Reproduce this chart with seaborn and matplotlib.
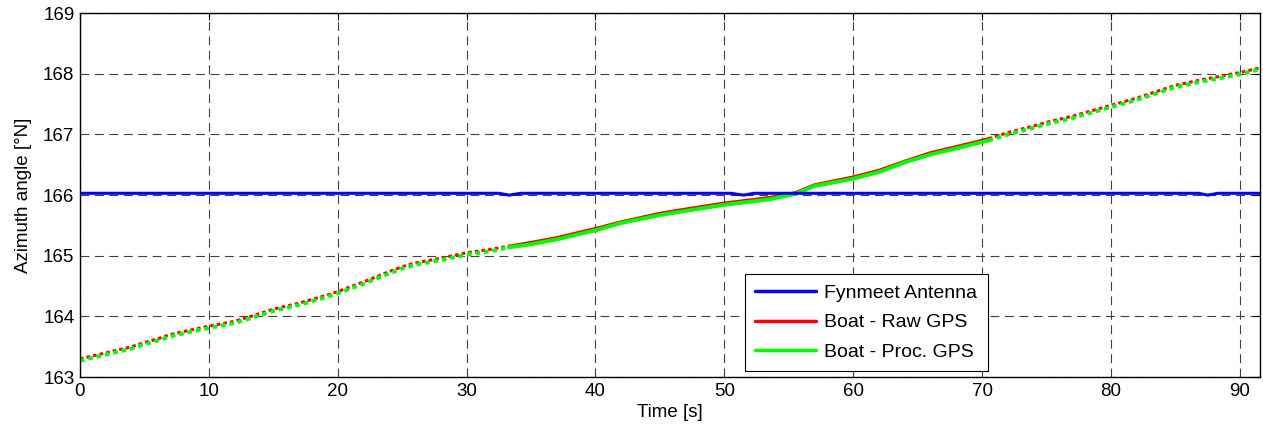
import numpy as np
import pandas as pd
import matplotlib
matplotlib.use("Agg")
import matplotlib.pyplot as plt
from matplotlib.lines import Line2D
import seaborn as sns

# ---- data ----
time_s = [0, 2, 4, 5, 6, 7, 8, 10, 12, 14, 15, 17, 19, 20, 22, 24, 25, 26, 28, 30,
          32, 33.3, 35, 37, 40, 42, 45, 47, 50, 53.5, 55.5, 57, 60, 62, 64, 66, 68,
          70.5, 72, 74, 75, 77, 80, 82, 85, 87, 90, 91.6]
raw_gps = [163.30, 163.40, 163.50, 163.57, 163.63, 163.70, 163.75, 163.84, 163.92,
           164.05, 164.12, 164.22, 164.34, 164.41, 164.57, 164.74, 164.82, 164.88,
           164.96, 165.05, 165.11, 165.16, 165.22, 165.30, 165.45, 165.56, 165.70,
           165.77, 165.87, 165.96, 166.04, 166.17, 166.30, 166.41, 166.56, 166.70,
           166.80, 166.93, 167.03, 167.14, 167.20, 167.30, 167.48, 167.60, 167.81,
           167.90, 168.02, 168.10]
proc_gps = [163.27, 163.37, 163.47, 163.54, 163.60, 163.67, 163.72, 163.81, 163.89,
            164.02, 164.09, 164.19, 164.31, 164.38, 164.54, 164.71, 164.79, 164.85,
            164.93, 165.02, 165.08, 165.14, 165.19, 165.27, 165.42, 165.54, 165.67,
            165.74, 165.84, 165.93, 166.02, 166.15, 166.27, 166.38, 166.54, 166.67,
            166.77, 166.90, 167.00, 167.11, 167.17, 167.27, 167.45, 167.57, 167.78,
            167.87, 167.99, 168.08]
antenna_t = [0, 10, 20, 28, 30, 32.5, 33.3, 34.2, 36, 45, 50.5, 51.5, 52.3, 55, 70,
             80, 86, 86.8, 87.5, 88.3, 91.6]
antenna_y = [166.03, 166.03, 166.03, 166.03, 166.03, 166.03, 166.00, 166.03, 166.03,
             166.03, 166.03, 166.00, 166.03, 166.03, 166.03, 166.03, 166.03, 166.03,
             166.00, 166.03, 166.03]
series_labels = ["Fynmeet Antenna", "Boat - Raw GPS", "Boat - Proc. GPS"]
solid_start, solid_end = 33.3, 70.5

boat = pd.DataFrame({"t": time_s, "raw": raw_gps, "proc": proc_gps})
ant = pd.DataFrame({"t": antenna_t, "y": antenna_y})

sns.set_style("white")
plt.rcParams["font.family"] = ["Liberation Sans", "DejaVu Sans"]
plt.rcParams["text.color"] = "black"
plt.rcParams["axes.labelcolor"] = "black"

fig = plt.figure(figsize=(12.63, 4.37), dpi=100)
ax = fig.add_axes([0.0633, 0.137, 0.9347, 0.833])

dot = (0, (1.2, 1.0))
segs = [
    (boat[boat.t <= solid_start], dot),
    (boat[(boat.t >= solid_start) & (boat.t <= solid_end)], "-"),
    (boat[boat.t >= solid_end], dot),
]
for seg, ls in segs:
    sns.lineplot(data=seg, x="t", y="raw", ax=ax, color="#ff0000", lw=2.2,
                 linestyle=ls, estimator=None, sort=False)
for seg, ls in segs:
    sns.lineplot(data=seg, x="t", y="proc", ax=ax, color="#00ff00", lw=2.8,
                 linestyle=ls, estimator=None, sort=False)
sns.lineplot(data=ant, x="t", y="y", ax=ax, color="#0000ff", lw=2.2,
             estimator=None, sort=False)

ax.set_xlim(0, 91.6)
ax.set_ylim(163, 169)
ax.set_xticks(np.arange(0, 91, 10))
ax.set_yticks(np.arange(163, 170, 1))
ax.set_xlabel("Time [s]", fontsize=13.5, labelpad=3)
ax.set_ylabel("Azimuth angle [°N]", fontsize=13.5, labelpad=8)
ax.tick_params(direction="in", length=5, width=0.8, top=True, right=True,
               labelsize=13.5, colors="black", pad=4)
ax.grid(True, color="0.25", linestyle=(0, (8, 5)), linewidth=0.8)
for sp in ax.spines.values():
    sp.set_color("black")
    sp.set_linewidth(1.0)

handles = [Line2D([], [], color="#0000ff", lw=2.5),
           Line2D([], [], color="#ff0000", lw=2.5),
           Line2D([], [], color="#00ff00", lw=2.5)]
leg = ax.legend(handles, series_labels, loc="lower left",
                bbox_to_anchor=(0.563, 0.016), borderaxespad=0, fontsize=14,
                frameon=True, fancybox=False, framealpha=1, edgecolor="black",
                handlelength=3.1, borderpad=0.55, labelspacing=0.6,
                handletextpad=0.45)
leg.get_frame().set_linewidth(0.8)

fig.savefig("out.png", dpi=100)
